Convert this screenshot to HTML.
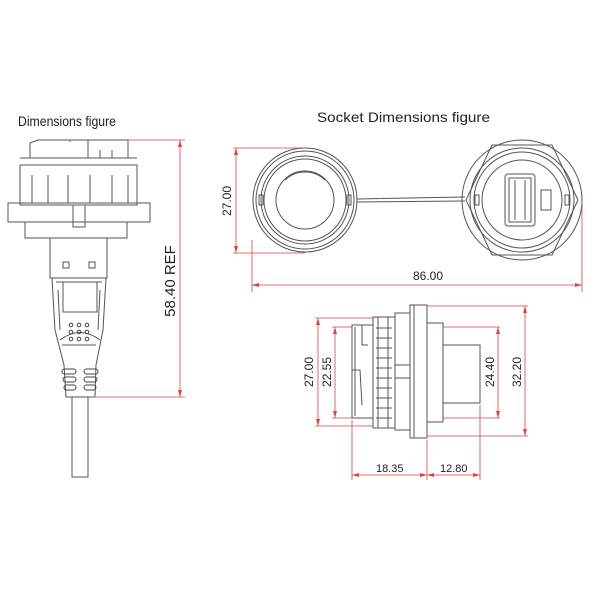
<!DOCTYPE html>
<html><head><style>body{margin:0;background:#fff}svg{display:block}</style></head>
<body>
<svg width="600" height="600" viewBox="0 0 600 600" xmlns="http://www.w3.org/2000/svg" font-family="Liberation Sans, sans-serif">
<rect width="600" height="600" fill="#fff"/>
<text x="18" y="126" font-size="14" textLength="98" lengthAdjust="spacingAndGlyphs" fill="#222">Dimensions figure</text>
<text x="317" y="122" font-size="14" textLength="173" lengthAdjust="spacingAndGlyphs" fill="#222">Socket Dimensions figure</text>

<g fill="none" stroke="#555" stroke-width="1">
<!-- left plug -->
<path d="M30 143 L38 140 L128 140 L128 158 L30 158 Z"/>
<path d="M70 140 L70 142"/>
<path d="M88 140 L88 158 M100 158 L100 150 M112 150 L112 158"/>
<rect x="20" y="165" width="117" height="40"/>
<path d="M20 158 L137 158 M32 175 L32 203 M48 175 L48 203 M68 175 L68 203 M90 175 L90 203 M112 175 L112 203 M128 175 L128 203"/>
<rect x="8" y="203" width="142" height="19"/>
<rect x="73" y="205" width="12" height="22"/>
<rect x="25" y="222" width="102" height="16"/>
<rect x="50" y="238" width="57" height="40"/>
<rect x="63" y="262" width="6" height="6"/><rect x="89" y="262" width="6" height="6"/>
<path d="M52 278 L106 278 L103 330 L96 365 L95 397 L66 397 L64 365 L55 330 Z"/>
<path d="M56 282 L102 282 M58 290 L60 330 M100 290 L98 330"/>
<rect x="63" y="282" width="34" height="30"/>
<path d="M60 340 Q80 325 100 340"/>
<path d="M62 345 L96 345"/>
<rect x="72" y="397" width="16" height="80"/>
</g>
<g fill="none" stroke="#444" stroke-width="1">
<circle cx="71" cy="325" r="1.8"/><circle cx="79" cy="325" r="1.8"/><circle cx="87" cy="325" r="1.8"/>
<circle cx="71" cy="332" r="1.8"/><circle cx="79" cy="332" r="1.8"/><circle cx="87" cy="332" r="1.8"/>
<circle cx="71" cy="339" r="1.8"/><circle cx="79" cy="339" r="1.8"/><circle cx="87" cy="339" r="1.8"/>
<rect x="62" y="369" width="14" height="5" rx="2.5"/><rect x="84" y="369" width="14" height="5" rx="2.5"/>
<rect x="63" y="377" width="13" height="5" rx="2.5"/><rect x="84" y="377" width="13" height="5" rx="2.5"/>
<rect x="64" y="385" width="12" height="5" rx="2.5"/><rect x="84" y="385" width="12" height="5" rx="2.5"/>
</g>
<g stroke="#d44" stroke-width="0.8" fill="none">
<path d="M128 140 L185 140 M96 397 L185 397 M180 140 L180 397"/>
</g>
<path d="M180 140 l-2 7 h4z M180 397 l-2 -7 h4z" fill="#d44"/>
<text transform="translate(175,281) rotate(-90)" text-anchor="middle" font-size="15" fill="#222">58.40 REF</text>

<!-- top right -->
<g fill="none" stroke="#555" stroke-width="1">
<circle cx="305" cy="200" r="52"/><circle cx="305" cy="200" r="49"/><circle cx="305" cy="200" r="44"/><circle cx="305" cy="200" r="41"/>
<circle cx="305" cy="200" r="29"/><path d="M285 180 A29 29 0 0 1 325 180"/>
<rect x="259" y="195" width="4" height="10"/><rect x="347" y="195" width="4" height="10"/>
<path d="M357 199 L465 197 M357 202 L465 201"/>
<circle cx="522" cy="200" r="60"/>
<path d="M492 145 L552 145 L578 200 L552 255 L492 255 L466 200 Z"/>
<circle cx="522" cy="200" r="52"/><circle cx="522" cy="200" r="48"/><circle cx="522" cy="200" r="40"/>
<rect x="475" y="195" width="4" height="10"/><rect x="565" y="195" width="4" height="10"/>
<rect x="505" y="174" width="30" height="52" rx="3"/>
<rect x="509" y="178" width="22" height="44"/>
<path d="M515 180 L515 220 M525 180 L525 220"/>
<rect x="541" y="190" width="10" height="20"/>
</g>
<g stroke="#d44" stroke-width="0.8" fill="none">
<path d="M233 148 L305 148 M233 253 L305 253 M236 148 L236 253"/>
<path d="M252 240 L252 292 M582 200 L582 292 M252 285 L582 285"/>
</g>
<path d="M236 148 l-2 7 h4z M236 253 l-2 -7 h4z M252 285 l7 -2 v4z M582 285 l-7 -2 v4z" fill="#d44"/>
<text transform="translate(231,201) rotate(-90)" text-anchor="middle" font-size="12" fill="#222">27.00</text>
<text x="413" y="280" font-size="12" fill="#222">86.00</text>

<!-- bottom -->
<g fill="none" stroke="#555" stroke-width="1">
<rect x="410" y="305" width="17" height="133"/>
<path d="M414 305 L414 438"/>
<path d="M395 313 L410 313 L410 430 L395 430 Z"/>
<rect x="373" y="317" width="22" height="111"/>
<path d="M378 317 L378 428 M388 317 L388 428 M376 328 L392 328 M376 338 L392 338 M376 348 L392 348 M376 358 L392 358 M376 368 L392 368 M376 378 L392 378 M376 388 L392 388 M376 398 L392 398 M376 408 L392 408 M376 418 L392 418"/>
<path d="M395 365 L410 365 M395 378 L410 378"/>
<path d="M352 325 L373 325 L373 418 L352 418 Z"/>
<path d="M355 327 L355 416 M362 325 L362 345 L368 345 M352 370 L360 370 L362 405"/>
<rect x="427" y="323" width="16" height="99"/>
<rect x="443" y="345" width="37" height="58"/>
</g>
<g stroke="#d44" stroke-width="0.8" fill="none">
<path d="M315 318 L373 318 M315 426 L373 426 M318 318 L318 426"/>
<path d="M332 327 L352 327 M332 418 L352 418 M335 327 L335 418"/>
<path d="M443 327 L500 327 M443 418 L500 418 M498 327 L498 418"/>
<path d="M427 306 L528 306 M427 436 L528 436 M525 306 L525 436"/>
<path d="M352 420 L352 480 M427 440 L427 480 M480 405 L480 480 M352 475 L480 475"/>
</g>
<path d="M318 318 l-2 7 h4z M318 426 l-2 -7 h4z M335 327 l-2 7 h4z M335 418 l-2 -7 h4z M498 327 l-2 7 h4z M498 418 l-2 -7 h4z M525 306 l-2 7 h4z M525 436 l-2 -7 h4z M352 475 l7 -2 v4z M427 475 l-7 -2 v4z M427 475 l7 -2 v4z M480 475 l-7 -2 v4z" fill="#d44"/>
<text transform="translate(313,372) rotate(-90)" text-anchor="middle" font-size="12" fill="#222">27.00</text>
<text transform="translate(331,372) rotate(-90)" text-anchor="middle" font-size="12" fill="#222">22.55</text>
<text transform="translate(494,372) rotate(-90)" text-anchor="middle" font-size="12" fill="#222">24.40</text>
<text transform="translate(521,372) rotate(-90)" text-anchor="middle" font-size="12" fill="#222">32.20</text>
<text x="376" y="472" font-size="11" fill="#222">18.35</text>
<text x="440" y="472" font-size="11" fill="#222">12.80</text>
</svg>
</body></html>
